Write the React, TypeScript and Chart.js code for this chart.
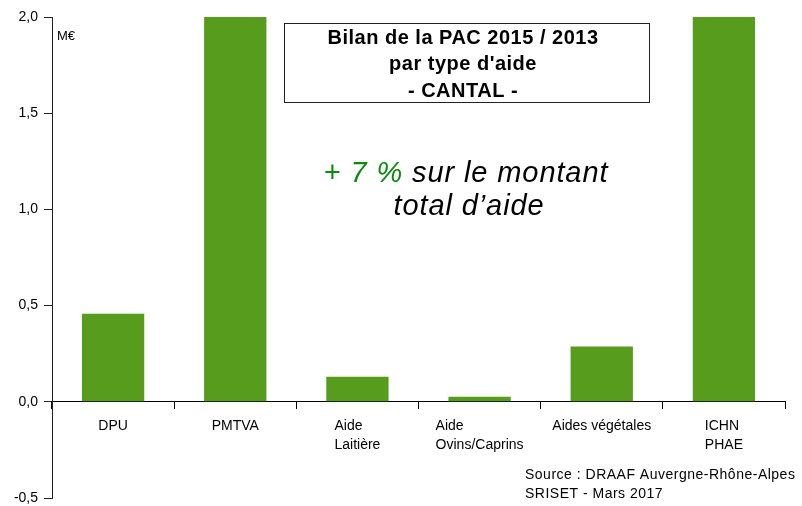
import React, { useEffect, useRef } from "react";
import { Chart, registerables } from "chart.js";

Chart.register(...registerables);

const categories: string[][] = [
  ["DPU"],
  ["PMTVA"],
  ["Aide", "Laitière"],
  ["Aide", "Ovins/Caprins"],
  ["Aides végétales"],
  ["ICHN", "PHAE"],
];
const values: number[] = [0.457, 2.3, 0.13, 0.026, 0.287, 2.3];
const yMin = -0.5;
const yMax = 2.0;
const yStep = 0.5;
const unitLabel = "M€";
const titleLines: string[] = ["Bilan de la PAC 2015 / 2013", "par type d'aide", "- CANTAL -"];
const highlightGreen = "+ 7 %";
const highlightRest = " sur le montant";
const highlightLine2 = "total d’aide";
const sourceLines: string[] = ["Source : DRAAF Auvergne-Rhône-Alpes", "SRISET - Mars 2017"];

const FONT = '"Liberation Sans", Arial, sans-serif';
const BAR_COLOR = "rgb(88,156,30)";

const textPlugin = {
  id: "customText",
  afterDraw(chart: any) {
    const ctx: CanvasRenderingContext2D = chart.ctx;
    const xs = chart.scales.x;
    const ys = chart.scales.y;
    const y0 = ys.getPixelForValue(0);
    ctx.save();
    ctx.fillStyle = "#000";
    ctx.textBaseline = "alphabetic";

    // category labels (left-aligned block, centred under bar)
    ctx.font = `14px ${FONT}`;
    ctx.textAlign = "left";
    categories.forEach((lines, i) => {
      const cx = xs.getPixelForValue(i);
      const w = Math.max(...lines.map((l) => ctx.measureText(l).width));
      lines.forEach((l, j) => {
        ctx.fillText(l, cx - w / 2, y0 + 28 + j * 19);
      });
    });

    // unit
    ctx.font = `13px ${FONT}`;
    ctx.fillText(unitLabel, chart.chartArea.left + 5, 40);

    // title box
    ctx.strokeStyle = "#222";
    ctx.lineWidth = 1;
    ctx.strokeRect(284.5, 23.5, 365, 79);
    ctx.font = `bold 20px ${FONT}`;
    ctx.textAlign = "center";
    (ctx as any).letterSpacing = "0.5px";
    const tb = [44, 70, 97];
    titleLines.forEach((l, i) => ctx.fillText(l, 463, tb[i]));

    // highlight text
    ctx.font = `italic 29px ${FONT}`;
    (ctx as any).letterSpacing = "0.9px";
    ctx.textAlign = "left";
    const wg = ctx.measureText(highlightGreen).width;
    const wr = ctx.measureText(highlightRest).width;
    const sx = 466 - (wg + wr) / 2;
    ctx.fillStyle = "#0e8a0e";
    ctx.fillText(highlightGreen, sx, 182);
    ctx.fillStyle = "#000";
    ctx.fillText(highlightRest, sx + wg, 182);
    ctx.textAlign = "center";
    ctx.fillText(highlightLine2, 469, 215);

    // source
    ctx.font = `14px ${FONT}`;
    (ctx as any).letterSpacing = "0.5px";
    ctx.textAlign = "left";
    sourceLines.forEach((l, i) => ctx.fillText(l, 525, 479 + i * 19));
    (ctx as any).letterSpacing = "0px";
    ctx.restore();
  },
};

export default function App() {
  const ref = useRef<HTMLCanvasElement | null>(null);
  useEffect(() => {
    if (!ref.current) return;
    const chart = new Chart(ref.current, {
      type: "bar",
      data: {
        labels: categories.map((c) => c.join(" ")),
        datasets: [
          {
            data: values,
            backgroundColor: BAR_COLOR,
            borderWidth: 0,
            barPercentage: 0.51,
            categoryPercentage: 1,
            clip: 0,
          } as any,
        ],
      },
      options: {
        responsive: false,
        animation: false,
        events: [],
        layout: { padding: { left: 0, top: 17, right: 17, bottom: 8 } },
        plugins: { legend: { display: false }, tooltip: { enabled: false }, title: { display: false } },
        scales: {
          x: {
            type: "category",
            position: { y: 0 } as any,
            offset: true,
            grid: {
              offset: true,
              drawOnChartArea: false,
              drawTicks: true,
              tickLength: 7,
              color: "#000",
            },
            border: { display: true, color: "#000", width: 1 },
            ticks: { display: false },
            afterFit: (s: any) => {
              s.height = 0;
              s.paddingBottom = 0;
              s.paddingTop = 0;
            },
          },
          y: {
            min: yMin,
            max: yMax,
            ticks: {
              stepSize: yStep,
              color: "#000",
              padding: 6,
              font: { family: FONT, size: 14 },
              callback: (v: any) => Number(v).toFixed(1).replace(".", ","),
            },
            grid: {
              drawOnChartArea: false,
              drawTicks: true,
              tickLength: 8,
              color: "#222",
            },
            border: { display: true, color: "#222", width: 1 },
            afterFit: (s: any) => {
              s.width = 52;
              s.paddingTop = 0;
              s.paddingBottom = 0;
            },
          },
        },
      },
      plugins: [textPlugin],
    });
    return () => chart.destroy();
  }, []);
  return (
    <div style={{ position: "absolute", left: 0, top: 0, width: 802, height: 506, background: "#fff" }}>
      <canvas ref={ref} width={802} height={506} style={{ display: "block" }} />
    </div>
  );
}
